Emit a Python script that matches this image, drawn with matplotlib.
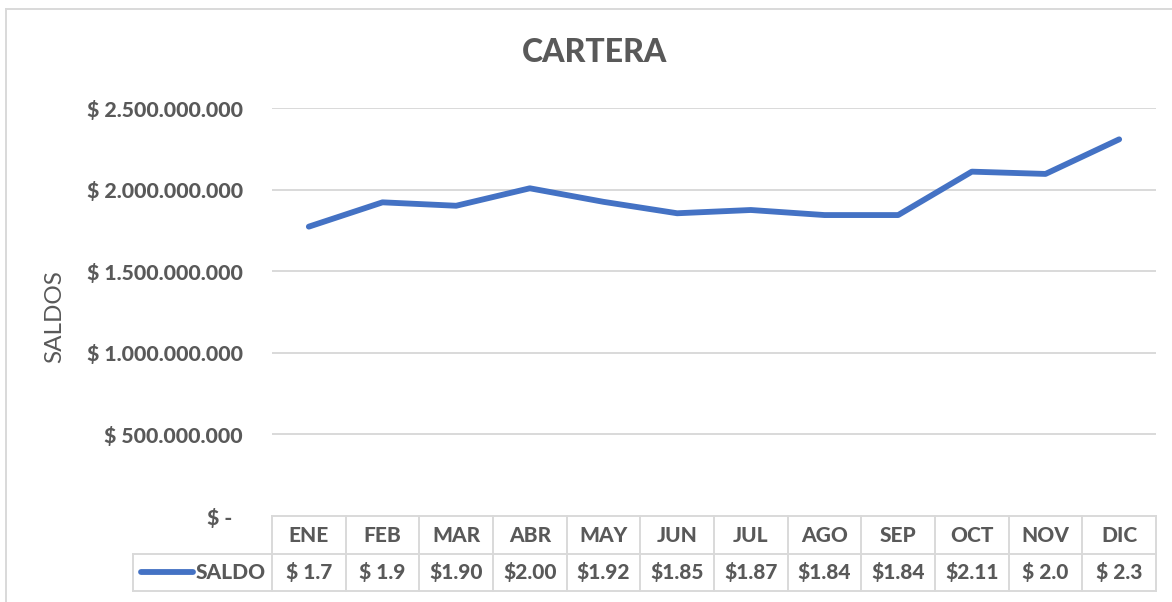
import matplotlib
matplotlib.use("Agg")
import matplotlib.pyplot as plt
import matplotlib.transforms as mtransforms
from matplotlib.lines import Line2D

# ---- data ----
months = ["ENE", "FEB", "MAR", "ABR", "MAY", "JUN", "JUL", "AGO", "SEP", "OCT", "NOV", "DIC"]
saldo = [1.773e9, 1.922e9, 1.901e9, 2.008e9, 1.925e9, 1.855e9,
         1.875e9, 1.844e9, 1.844e9, 2.110e9, 2.096e9, 2.308e9]
table_labels = ["$ 1.7", "$ 1.9", "$1.90", "$2.00", "$1.92", "$1.85",
                "$1.87", "$1.84", "$1.84", "$2.11", "$ 2.0", "$ 2.3"]
yticks = [0, 500e6, 1000e6, 1500e6, 2000e6, 2500e6]
series_name = "SALDO"
title = "CARTERA"
ylabel = "SALDOS"

FONT = "Lato"
TXT = "#595959"
GRID = "#D9D9D9"
LINE = "#4472C4"
FS = 15

W, H = 1172, 602
fig = plt.figure(figsize=(W / 100, H / 100), dpi=100)
fig.patch.set_facecolor("white")

L, R, T, B = 272, 1156, 108, 516
ax = fig.add_axes([L / W, 1 - B / H, (R - L) / W, (B - T) / H])
ax.set_facecolor("white")
ax.set_xlim(-0.5, len(months) - 0.5)
ax.set_ylim(0, 2.5e9)

for s in ax.spines.values():
    s.set_visible(False)

ax.set_yticks(yticks)
def fmt(v):
    if v == 0:
        return "$ -"
    return "$ " + f"{v:,.0f}".replace(",", ".")
ax.set_yticklabels([fmt(v) for v in yticks], fontfamily=FONT, fontweight=900,
                   fontsize=15.3, color=TXT)
ax.tick_params(axis="y", length=0, pad=21)
ax.set_xticks([])
# shift the "$ -" label left like Excel's accounting format
lbl0 = ax.get_yticklabels()[0]
lbl0.set_transform(lbl0.get_transform() + mtransforms.ScaledTranslation(-11 / 100, 0, fig.dpi_scale_trans))

for v in yticks[1:]:
    ax.axhline(v, color=GRID, lw=1.4, zorder=1)

x = list(range(len(months)))
ax.plot(x, saldo, color=LINE, lw=4.2, solid_capstyle="round", solid_joinstyle="round", zorder=3)

# title & y label
fig.text(595 / W, 1 - 53 / H, title, ha="center", va="center", fontfamily=FONT,
         fontweight=900, fontsize=23, color=TXT)
fig.text(55 / W, 1 - 317 / H, ylabel, ha="center", va="center", rotation=90,
         fontfamily=FONT, fontsize=17.5, color=TXT)

# ---- data table below axes ----
trans = ax.get_xaxis_transform()
hp = B - T
def ay(py):
    return (B - py) / hp
y_top, y_mid, y_bot = ay(516), ay(554), ay(591)
n = len(months)
tl = dict(color=GRID, lw=1.4, transform=trans, clip_on=False)
ax.add_line(Line2D([-0.5, n - 0.5], [y_top, y_top], **tl))
ax.add_line(Line2D([-0.5, n - 0.5], [y_bot, y_bot], **tl))
ax.add_line(Line2D([-0.5, n - 0.5], [y_mid, y_mid], **tl))
fig.add_artist(Line2D([133 / W, L / W], [1 - 554 / H, 1 - 554 / H], color=GRID, lw=1.4))
fig.add_artist(Line2D([133 / W, L / W], [1 - 591 / H, 1 - 591 / H], color=GRID, lw=1.4))
fig.add_artist(Line2D([133 / W, 133 / W], [1 - 554 / H, 1 - 591 / H], color=GRID, lw=1.4))
for i in range(n + 1):
    ax.add_line(Line2D([i - 0.5, i - 0.5], [y_top, y_bot], **tl))

for i, (m, t) in enumerate(zip(months, table_labels)):
    ax.text(i, ay(535), m, transform=trans, ha="center", va="center", fontfamily=FONT,
            fontweight=900, fontsize=FS, color=TXT, clip_on=False)
    ax.text(i, ay(572.5), t, transform=trans, ha="center", va="center", fontfamily=FONT,
            fontweight=900, fontsize=FS, color=TXT, clip_on=False)

# legend key in table
fig.add_artist(Line2D([141 / W, 193 / W], [1 - 572 / H, 1 - 572 / H], color=LINE, lw=4.2,
                      solid_capstyle="round"))
fig.text(231 / W, 1 - 572.5 / H, series_name, ha="center", va="center", fontfamily=FONT,
         fontweight=900, fontsize=FS, color=TXT)

# chart outer border (left & top visible)
fig.add_artist(Line2D([6 / W, 6 / W], [0, 1 - 9 / H], color=GRID, lw=1.4))
fig.add_artist(Line2D([6 / W, 1], [1 - 9 / H, 1 - 9 / H], color=GRID, lw=1.4))

fig.savefig("out.png", dpi=100, facecolor="white")
